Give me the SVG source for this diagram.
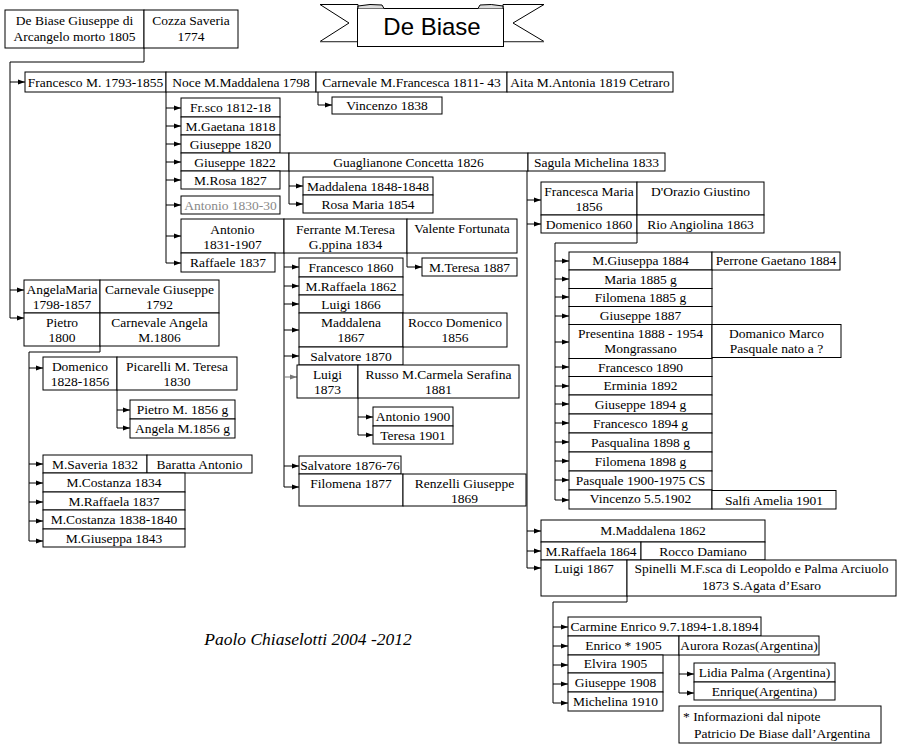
<svg xmlns="http://www.w3.org/2000/svg" width="900" height="750" viewBox="0 0 900 750">
<style>
.b{fill:#fff;stroke:#000;stroke-width:1}
text{font-family:"Liberation Serif","Times New Roman",serif;font-size:13.5px;fill:#000;text-anchor:middle}
.l{text-anchor:start}
.g{fill:#888}
.c{fill:none;stroke:#000;stroke-width:1}
.a{fill:none;stroke:#000;stroke-width:1;marker-end:url(#ar)}
.ag{fill:none;stroke:#777;stroke-width:1;marker-end:url(#arg)}
</style>
<defs>
<marker id="ar" markerUnits="userSpaceOnUse" markerWidth="7" markerHeight="6" refX="7" refY="3" orient="auto"><path d="M0,0.5 L7,3 L0,5.5 z" fill="#000"/></marker>
<marker id="arg" markerUnits="userSpaceOnUse" markerWidth="7" markerHeight="6" refX="7" refY="3" orient="auto"><path d="M0,0.5 L7,3 L0,5.5 z" fill="#777"/></marker>
</defs>
<rect width="900" height="750" fill="#fff"/>

<g id="title">
<polygon points="320,4.5 358,4.5 358,41.5 320,41.5 349,23" fill="#fff" stroke="#000"/>
<polygon points="544,4.5 503,4.5 503,41.5 544,41.5 513,23" fill="#fff" stroke="#000"/>
<line x1="320" y1="42" x2="358" y2="42" stroke="#999"/>
<line x1="503" y1="42" x2="544" y2="42" stroke="#999"/>
<rect x="357.5" y="8.5" width="146" height="38" class="b"/>
<path d="M358,8.5 V6 Q370,3.5 382,5 L384,8.5" fill="#ddd" stroke="#000"/>
<path d="M478,8.5 L480,5 Q491,3.5 503,6 V8.5" fill="#ddd" stroke="#000"/>
<text x="432" y="35" style="font-family:'Liberation Sans',Arial,sans-serif;font-size:24px">De Biase</text>
</g>

<g id="connectors">
<path class="c" d="M144,48 V62 H10 V318"/>
<path class="a" d="M10,82 H25"/>
<path class="a" d="M10,290 H24"/>
<path class="a" d="M10,318 H24"/>
<path class="c" d="M318,92 V105"/>
<path class="a" d="M318,105 H332"/>
<path class="c" d="M166,92 V263"/>
<path class="a" d="M166,108 H181"/>
<path class="a" d="M166,126 H181"/>
<path class="a" d="M166,144 H181"/>
<path class="a" d="M166,162 H181"/>
<path class="a" d="M166,180 H181"/>
<path class="a" d="M166,205 H181"/>
<path class="a" d="M166,236 H181"/>
<path class="a" d="M166,263 H181"/>
<path class="c" d="M289,171 V204"/>
<path class="a" d="M289,186 H303"/>
<path class="a" d="M289,204 H303"/>
<path class="c" d="M407,253 V267"/>
<path class="a" d="M407,267 H422"/>
<path class="c" d="M284,253 V487"/>
<path class="a" d="M284,267 H299"/>
<path class="a" d="M284,286 H299"/>
<path class="a" d="M284,304 H299"/>
<path class="a" d="M284,330 H299"/>
<path class="a" d="M284,356 H299"/>
<path class="ag" d="M284,377 H297"/>
<path class="a" d="M284,466 H299"/>
<path class="a" d="M284,487 H299"/>
<path class="c" d="M358,398 V435"/>
<path class="a" d="M358,417 H373"/>
<path class="a" d="M358,435 H373"/>
<path class="c" d="M100,346 V352 H29 V541"/>
<path class="a" d="M29,368 H43"/>
<path class="a" d="M29,464 H43"/>
<path class="a" d="M29,483 H43"/>
<path class="a" d="M29,502 H43"/>
<path class="a" d="M29,521 H43"/>
<path class="a" d="M29,541 H43"/>
<path class="c" d="M117,390 V428"/>
<path class="a" d="M117,410 H130"/>
<path class="a" d="M117,428 H130"/>
<path class="c" d="M527,171 V568"/>
<path class="a" d="M527,200 H541"/>
<path class="a" d="M527,224 H541"/>
<path class="a" d="M527,531 H541"/>
<path class="a" d="M527,551 H541"/>
<path class="a" d="M527,568 H541"/>
<path class="c" d="M637,233 V243 H555 V500"/>
<path class="a" d="M555,261 H569"/>
<path class="a" d="M555,279 H569"/>
<path class="a" d="M555,297 H569"/>
<path class="a" d="M555,316 H569"/>
<path class="a" d="M555,342 H569"/>
<path class="a" d="M555,367 H569"/>
<path class="a" d="M555,386 H569"/>
<path class="a" d="M555,404 H569"/>
<path class="a" d="M555,423 H569"/>
<path class="a" d="M555,442 H569"/>
<path class="a" d="M555,461 H569"/>
<path class="a" d="M555,480 H569"/>
<path class="a" d="M555,500 H569"/>
<path class="c" d="M627,596 V602 H553 V703"/>
<path class="a" d="M553,627 H568"/>
<path class="a" d="M553,646 H568"/>
<path class="a" d="M553,665 H568"/>
<path class="a" d="M553,684 H568"/>
<path class="a" d="M553,703 H568"/>
<path class="c" d="M679,655 V693"/>
<path class="a" d="M679,674 H694"/>
<path class="a" d="M679,693 H694"/>
</g>

<g id="n-giuseppe"><rect class="b" x="5" y="10" width="139" height="38"/><text x="74.5" y="25">De Biase Giuseppe di</text><text x="74.5" y="41">Arcangelo morto 1805</text></g>
<g id="n-cozza"><rect class="b" x="144" y="10" width="94" height="38"/><text x="191" y="25">Cozza Saveria</text><text x="191" y="41">1774</text></g>

<g id="n-francesco"><rect class="b" x="25" y="72" width="141" height="20"/><text x="95.5" y="87">Francesco M. 1793-1855</text></g>
<g id="n-noce"><rect class="b" x="166" y="72" width="150" height="20"/><text x="241" y="87">Noce M.Maddalena 1798</text></g>
<g id="n-carnevale-mf"><rect class="b" x="316" y="72" width="191" height="20"/><text x="411.5" y="87">Carnevale M.Francesca  1811- 43</text></g>
<g id="n-aita"><rect class="b" x="507" y="72" width="166" height="20"/><text x="590" y="87">Aita M.Antonia 1819 Cetraro</text></g>
<g id="n-vincenzo1838"><rect class="b" x="332" y="97" width="110" height="17"/><text x="387" y="110">Vincenzo 1838</text></g>

<g id="n-frsco"><rect class="b" x="181" y="98" width="99" height="19"/><text x="230.5" y="112">Fr.sco 1812-18</text></g>
<g id="n-mgaetana"><rect class="b" x="181" y="117" width="99" height="18"/><text x="230.5" y="131">M.Gaetana 1818</text></g>
<g id="n-giuseppe1820"><rect class="b" x="181" y="135" width="99" height="18"/><text x="230.5" y="149">Giuseppe 1820</text></g>
<g id="n-giuseppe1822"><rect class="b" x="181" y="153" width="108" height="18"/><text x="235" y="167">Giuseppe 1822</text></g>
<g id="n-guaglianone"><rect class="b" x="289" y="153" width="239" height="18"/><text x="408.5" y="167">Guaglianone Concetta 1826</text></g>
<g id="n-sagula"><rect class="b" x="528" y="153" width="137" height="18"/><text x="596.5" y="167">Sagula Michelina 1833</text></g>
<g id="n-mrosa"><rect class="b" x="181" y="171" width="99" height="18"/><text x="230.5" y="185">M.Rosa 1827</text></g>
<g id="n-antonio1830"><rect class="b" x="181" y="196" width="99" height="18"/><text class="g" x="230.5" y="210">Antonio 1830-30</text></g>
<g id="n-maddalena1848"><rect class="b" x="303" y="177" width="130" height="18"/><text x="368" y="191">Maddalena 1848-1848</text></g>
<g id="n-rosamaria"><rect class="b" x="303" y="195" width="130" height="18"/><text x="368" y="209">Rosa Maria 1854</text></g>
<g id="n-antonio1831"><rect class="b" x="181" y="219" width="103" height="34"/><text x="232.5" y="234">Antonio</text><text x="232.5" y="249">1831-1907</text></g>
<g id="n-ferrante"><rect class="b" x="284" y="219" width="123" height="34"/><text x="345.5" y="234">Ferrante M.Teresa</text><text x="345.5" y="249">G.ppina 1834</text></g>
<g id="n-valente"><rect class="b" x="407" y="219" width="110" height="34"/><text x="462" y="233">Valente Fortunata</text></g>
<g id="n-raffaele1837"><rect class="b" x="181" y="253" width="94" height="19"/><text x="228" y="267">Raffaele 1837</text></g>
<g id="n-mteresa1887"><rect class="b" x="422" y="258" width="95" height="18"/><text x="469.5" y="272">M.Teresa 1887</text></g>

<g id="n-francesco1860"><rect class="b" x="299" y="258" width="104" height="19"/><text x="351" y="272">Francesco 1860</text></g>
<g id="n-mraffaela1862"><rect class="b" x="299" y="277" width="104" height="18"/><text x="351" y="291">M.Raffaela 1862</text></g>
<g id="n-luigi1866"><rect class="b" x="299" y="295" width="104" height="18"/><text x="351" y="309">Luigi 1866</text></g>
<g id="n-maddalena1867"><rect class="b" x="299" y="313" width="104" height="34"/><text x="351" y="327">Maddalena</text><text x="351" y="342">1867</text></g>
<g id="n-rocco-domenico"><rect class="b" x="403" y="313" width="104" height="34"/><text x="455" y="327">Rocco Domenico</text><text x="455" y="342">1856</text></g>
<g id="n-salvatore1870"><rect class="b" x="299" y="347" width="104" height="18"/><text x="351" y="361">Salvatore 1870</text></g>
<g id="n-luigi1873"><rect class="b" x="297" y="365" width="61" height="33"/><text x="327.5" y="379">Luigi</text><text x="327.5" y="394">1873</text></g>
<g id="n-russo"><rect class="b" x="358" y="365" width="161" height="33"/><text x="438.5" y="379">Russo M.Carmela Serafina</text><text x="438.5" y="394">1881</text></g>
<g id="n-antonio1900"><rect class="b" x="373" y="407" width="80" height="19"/><text x="413" y="421">Antonio 1900</text></g>
<g id="n-teresa1901"><rect class="b" x="373" y="426" width="80" height="18"/><text x="413" y="440">Teresa 1901</text></g>
<g id="n-salvatore1876"><rect class="b" x="299" y="456" width="102" height="18"/><text x="350" y="470">Salvatore 1876-76</text></g>
<g id="n-filomena1877"><rect class="b" x="299" y="474" width="104" height="32"/><text x="351" y="488">Filomena 1877</text></g>
<g id="n-renzelli"><rect class="b" x="403" y="474" width="123" height="32"/><text x="464.5" y="488">Renzelli Giuseppe</text><text x="464.5" y="503">1869</text></g>

<g id="n-angelamaria"><rect class="b" x="24" y="280" width="76" height="33"/><text x="62" y="294">AngelaMaria</text><text x="62" y="309">1798-1857</text></g>
<g id="n-carnevale-g"><rect class="b" x="100" y="280" width="119" height="33"/><text x="159.5" y="294">Carnevale Giuseppe</text><text x="159.5" y="309">1792</text></g>
<g id="n-pietro"><rect class="b" x="24" y="313" width="76" height="33"/><text x="62" y="327">Pietro</text><text x="62" y="342">1800</text></g>
<g id="n-carnevale-a"><rect class="b" x="100" y="313" width="119" height="33"/><text x="159.5" y="327">Carnevale Angela</text><text x="159.5" y="342">M.1806</text></g>
<g id="n-domenico1828"><rect class="b" x="43" y="357" width="74" height="33"/><text x="80" y="371">Domenico</text><text x="80" y="386">1828-1856</text></g>
<g id="n-picarelli"><rect class="b" x="117" y="357" width="120" height="33"/><text x="177" y="371">Picarelli M. Teresa</text><text x="177" y="386">1830</text></g>
<g id="n-pietrom"><rect class="b" x="130" y="400" width="105" height="19"/><text x="182.5" y="414">Pietro M. 1856 g</text></g>
<g id="n-angelam"><rect class="b" x="130" y="419" width="105" height="19"/><text x="182.5" y="433">Angela M.1856 g</text></g>
<g id="n-msaveria"><rect class="b" x="43" y="455" width="104" height="18"/><text x="95" y="469">M.Saveria 1832</text></g>
<g id="n-baratta"><rect class="b" x="147" y="455" width="105" height="18"/><text x="199.5" y="469">Baratta Antonio</text></g>
<g id="n-mcostanza1834"><rect class="b" x="43" y="473" width="142" height="19"/><text x="114" y="487">M.Costanza 1834</text></g>
<g id="n-mraffaela1837"><rect class="b" x="43" y="492" width="142" height="18"/><text x="114" y="506">M.Raffaela 1837</text></g>
<g id="n-mcostanza1838"><rect class="b" x="43" y="510" width="142" height="19"/><text x="114" y="524">M.Costanza 1838-1840</text></g>
<g id="n-mgiuseppa1843"><rect class="b" x="43" y="529" width="142" height="18"/><text x="114" y="543">M.Giuseppa 1843</text></g>

<g id="n-francescamaria"><rect class="b" x="541" y="182" width="96" height="33"/><text x="589" y="196">Francesca Maria</text><text x="589" y="211">1856</text></g>
<g id="n-dorazio"><rect class="b" x="637" y="182" width="127" height="33"/><text x="700.5" y="196">D'Orazio  Giustino</text></g>
<g id="n-domenico1860"><rect class="b" x="541" y="215" width="96" height="18"/><text x="589" y="229">Domenico 1860</text></g>
<g id="n-rio"><rect class="b" x="637" y="215" width="127" height="18"/><text x="700.5" y="229">Rio Angiolina 1863</text></g>

<g id="n-mgiuseppa1884"><rect class="b" x="569" y="252" width="143" height="18"/><text x="640.5" y="265">M.Giuseppa 1884</text></g>
<g id="n-perrone"><rect class="b" x="712" y="252" width="128" height="18"/><text x="776" y="265">Perrone Gaetano 1884</text></g>
<g id="n-maria1885"><rect class="b" x="569" y="270" width="143" height="18.5"/><text x="640.5" y="284">Maria 1885 g</text></g>
<g id="n-filomena1885"><rect class="b" x="569" y="288.5" width="143" height="18"/><text x="640.5" y="302">Filomena 1885 g</text></g>
<g id="n-giuseppe1887"><rect class="b" x="569" y="306.5" width="143" height="18"/><text x="640.5" y="320">Giuseppe 1887</text></g>
<g id="n-presentina"><rect class="b" x="569" y="324.5" width="143" height="34"/><text x="640.5" y="338">Presentina 1888 - 1954</text><text x="640.5" y="353">Mongrassano</text></g>
<g id="n-domanico"><rect class="b" x="712" y="324.5" width="129" height="33"/><text x="776.5" y="338">Domanico Marco</text><text x="776.5" y="353">Pasquale nato a ?</text></g>
<g id="n-francesco1890"><rect class="b" x="569" y="358.5" width="143" height="18"/><text x="640.5" y="372">Francesco 1890</text></g>
<g id="n-erminia"><rect class="b" x="569" y="376.5" width="143" height="18.5"/><text x="640.5" y="390">Erminia 1892</text></g>
<g id="n-giuseppe1894"><rect class="b" x="569" y="395" width="143" height="19"/><text x="640.5" y="409">Giuseppe 1894 g</text></g>
<g id="n-francesco1894"><rect class="b" x="569" y="414" width="143" height="19"/><text x="640.5" y="428">Francesco 1894 g</text></g>
<g id="n-pasqualina"><rect class="b" x="569" y="433" width="143" height="19"/><text x="640.5" y="447">Pasqualina 1898 g</text></g>
<g id="n-filomena1898"><rect class="b" x="569" y="452" width="143" height="19"/><text x="640.5" y="466">Filomena 1898 g</text></g>
<g id="n-pasquale"><rect class="b" x="569" y="471" width="143" height="19"/><text x="640.5" y="485">Pasquale 1900-1975 CS</text></g>
<g id="n-vincenzo1902"><rect class="b" x="569" y="490" width="143" height="19"/><text x="640.5" y="503">Vincenzo 5.5.1902</text></g>
<g id="n-salfi"><rect class="b" x="712" y="490.5" width="124" height="18.5"/><text x="774" y="505">Salfi Amelia 1901</text></g>

<g id="n-mmaddalena1862"><rect class="b" x="541" y="520" width="224" height="22"/><text x="653" y="535">M.Maddalena 1862</text></g>
<g id="n-mraffaela1864"><rect class="b" x="541" y="542" width="100" height="18"/><text x="591" y="556">M.Raffaela 1864</text></g>
<g id="n-rocco-damiano"><rect class="b" x="641" y="542" width="124" height="18"/><text x="703" y="556">Rocco Damiano</text></g>
<g id="n-luigi1867"><rect class="b" x="541" y="560" width="86" height="36"/><text x="584" y="573">Luigi 1867</text></g>
<g id="n-spinelli"><rect class="b" x="627" y="560" width="269" height="36"/><text x="761.5" y="573">Spinelli M.F.sca di Leopoldo e Palma Arciuolo</text><text x="761.5" y="590">1873 S.Agata d’Esaro</text></g>

<g id="n-carmine"><rect class="b" x="568" y="617" width="193" height="19"/><text x="664.5" y="631">Carmine Enrico 9.7.1894-1.8.1894</text></g>
<g id="n-enrico"><rect class="b" x="568" y="636" width="111" height="19"/><text x="623.5" y="650">Enrico * 1905</text></g>
<g id="n-aurora"><rect class="b" x="679" y="636" width="140" height="19"/><text x="749" y="650">Aurora Rozas(Argentina)</text></g>
<g id="n-elvira"><rect class="b" x="568" y="655" width="95" height="18"/><text x="615.5" y="668">Elvira 1905</text></g>
<g id="n-giuseppe1908"><rect class="b" x="568" y="673" width="95" height="19"/><text x="615.5" y="687">Giuseppe 1908</text></g>
<g id="n-michelina"><rect class="b" x="568" y="692" width="95" height="19"/><text x="615.5" y="706">Michelina 1910</text></g>
<g id="n-lidia"><rect class="b" x="694" y="663" width="141" height="19"/><text x="764.5" y="677">Lidia Palma (Argentina)</text></g>
<g id="n-enrique"><rect class="b" x="694" y="682" width="141" height="18"/><text x="764.5" y="696">Enrique(Argentina)</text></g>
<g id="n-note"><rect class="b" x="679" y="706" width="202" height="37"/><text class="l" x="683" y="721">*  Informazioni dal nipote</text><text class="l" x="694" y="738">Patricio De Biase dall’Argentina</text></g>

<g id="footer"><text x="308" y="645" style="font-style:italic;font-size:17.5px">Paolo Chiaselotti 2004 -2012</text></g>
</svg>
